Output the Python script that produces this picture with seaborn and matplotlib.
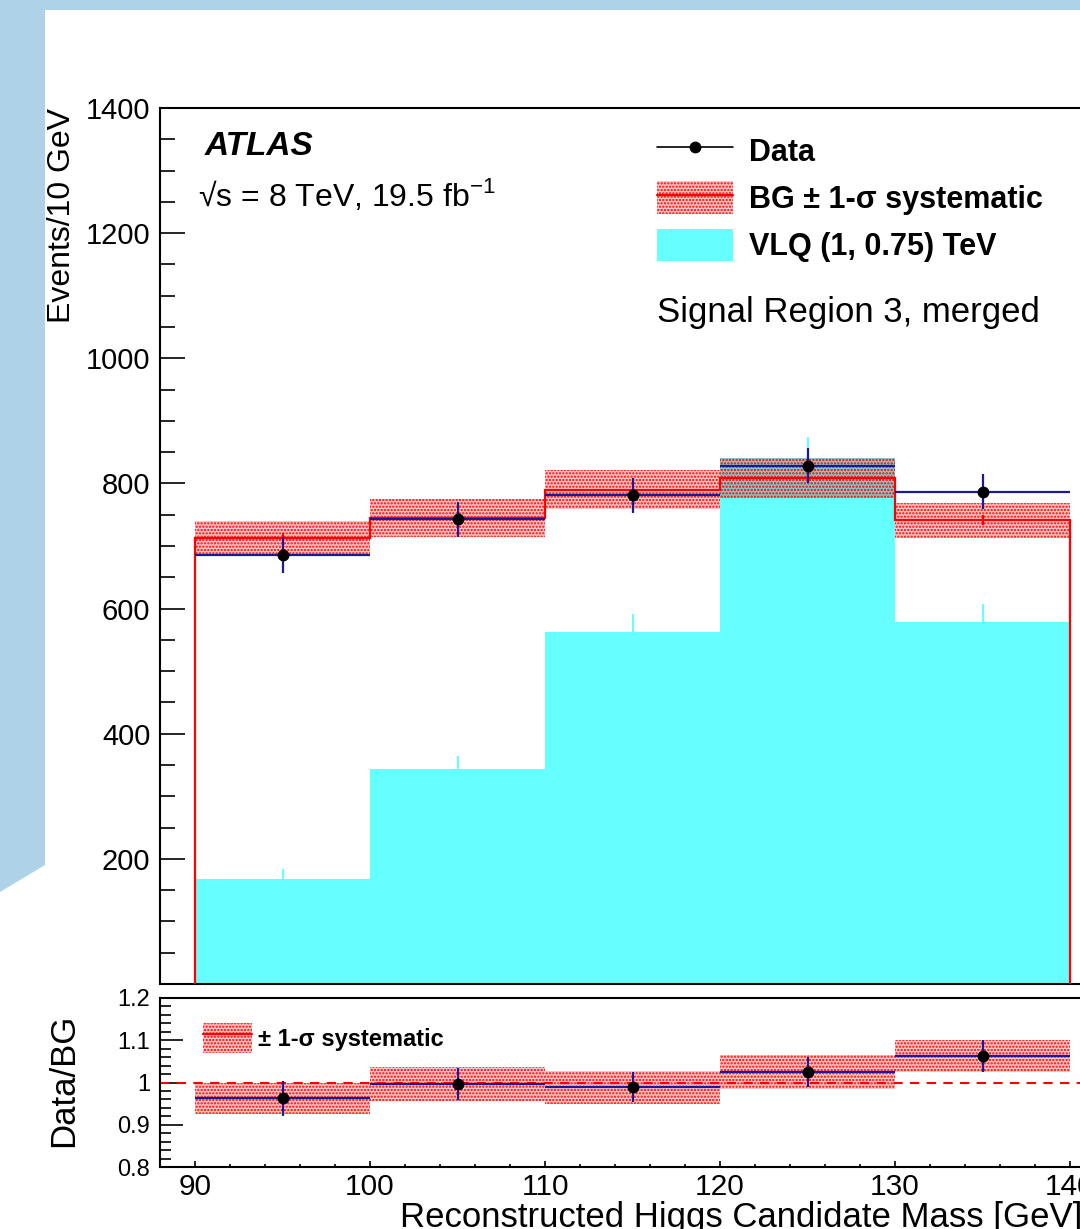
import numpy as np
import pandas as pd
import matplotlib
matplotlib.use("Agg")
import matplotlib.pyplot as plt
from matplotlib.patches import Patch, Polygon
from matplotlib.lines import Line2D
from matplotlib.legend_handler import HandlerTuple
from matplotlib.ticker import MultipleLocator, FixedLocator, FixedFormatter
import seaborn as sns

# Số liệu
bin_edges = [90, 100, 110, 120, 130, 140]
bg = [713, 745, 790, 808, 741]
bg_syst = [27, 30, 31, 32, 28]
bg_stat = [7, 7, 7, 8, 8]
data = [686, 743, 781, 828, 787]
data_err = [29, 28, 28, 28, 28]
vlq = [168, 343, 563, 840, 578]
vlq_err = [15, 22, 29, 34, 30]

y_ticks_main = [200, 400, 600, 800, 1000, 1200, 1400]
y_ticks_ratio = [0.8, 0.9, 1.0, 1.1, 1.2]
y_ticklabels_ratio = ["0.8", "0.9", "1", "1.1", "1.2"]

RED = "#ff0000"
BAND_FACE = (1.0, 0.0, 0.0, 0.22)
BLUE = "#1a1a99"
CYAN = "#66ffff"
FRAME = "#aed2e8"
HATCH = "....."

sns.set_theme(style="ticks", rc={
    "axes.edgecolor": "black", "xtick.color": "black", "ytick.color": "black",
    "text.color": "black", "axes.labelcolor": "black", "axes.linewidth": 1.5,
})
plt.rcParams["font.family"] = ["Liberation Sans", "DejaVu Sans"]
plt.rcParams["mathtext.fontset"] = "custom"
plt.rcParams["mathtext.rm"] = "Liberation Sans"
plt.rcParams["hatch.linewidth"] = 1.1

edges = np.array(bin_edges, dtype=float)
centers = (edges[:-1] + edges[1:]) / 2
half_w = (edges[1:] - edges[:-1]) / 2
bg_a = np.array(bg, dtype=float)
syst_a = np.array(bg_syst, dtype=float)
data_a = np.array(data, dtype=float)
derr_a = np.array(data_err, dtype=float)
vlq_a = np.array(vlq, dtype=float)
verr_a = np.array(vlq_err, dtype=float)

df = pd.DataFrame({"mass": centers, "vlq": vlq_a})

W, H = 1080, 1229
fig = plt.figure(figsize=(W / 100, H / 100), dpi=100)
fig.patch.set_facecolor("white")


def px_rect(left, right, top, bottom):
    return [left / W, 1 - bottom / H, (right - left) / W, (bottom - top) / H]


# khung nền màu xanh của slide
frame = Polygon([(0, 1), (1, 1), (1, 1 - 10 / H), (45 / W, 1 - 10 / H),
                 (45 / W, 1 - 865 / H), (0, 1 - 892 / H)],
                closed=True, transform=fig.transFigure, facecolor=FRAME,
                edgecolor="none", zorder=-5)
fig.patches.append(frame)

ax1 = fig.add_axes(px_rect(160, 1105, 108, 984))
ax2 = fig.add_axes(px_rect(160, 1105, 998, 1167))

# ---- Panel trên ----
sns.histplot(data=df, x="mass", weights="vlq", bins=bin_edges, element="step",
             fill=True, color=CYAN, alpha=1, linewidth=0, ax=ax1, zorder=1)
ax1.vlines(centers, vlq_a - verr_a, vlq_a + verr_a, color=CYAN, lw=1.5, zorder=1)
ax1.stairs(bg_a + syst_a, edges, baseline=bg_a - syst_a, fill=True,
           facecolor=BAND_FACE, edgecolor=RED, hatch=HATCH, lw=0, zorder=2)
ax1.stairs(bg_a, edges, baseline=0, fill=False, color=RED, lw=1.6, zorder=3)
ax1.vlines(centers, bg_a - np.array(bg_stat), bg_a + np.array(bg_stat),
           color=RED, lw=1.5, zorder=3)
ax1.errorbar(centers, data_a, xerr=half_w, yerr=derr_a, fmt="o", mfc="black",
             mec="black", ms=7.5, ecolor=BLUE, elinewidth=1.6, capsize=0, zorder=4)

ax1.set_xlim(88, 142)
ax1.set_ylim(0, 1400)
ax1.yaxis.set_major_locator(FixedLocator(y_ticks_main))
ax1.yaxis.set_minor_locator(MultipleLocator(50))
ax1.tick_params(axis="y", which="major", direction="in", length=18, width=1.2,
                labelsize=21, pad=7, left=True, right=False)
ax1.tick_params(axis="y", which="minor", direction="in", length=11, width=1.2,
                left=True, right=False)
ax1.tick_params(axis="x", which="both", bottom=False, top=False, labelbottom=False)
ax1.set_xlabel("")
ax1.set_ylabel("Events/10 GeV", fontsize=23, loc="top")
ax1.yaxis.set_label_coords(-0.088, 1.0)

ax1.text(0.0476, 0.9555, "ATLAS", transform=ax1.transAxes, fontsize=24,
         fontweight="bold", fontstyle="italic", va="center", ha="left")
ax1.text(0.0402, 0.9007, "√s = 8 TeV, 19.5 fb$^{-1}$", transform=ax1.transAxes,
         fontsize=23, va="center", ha="left")
ax1.text(0.526, 0.766, "Signal Region 3, merged", transform=ax1.transAxes,
         fontsize=25, va="center", ha="left")

handles = [
    Line2D([], [], color="black", marker="o", ms=7.5, lw=1.2),
    (Patch(facecolor=BAND_FACE, edgecolor=RED, hatch=HATCH, lw=0),
     Line2D([], [], color=RED, lw=1.6)),
    Patch(facecolor=CYAN, edgecolor="none"),
]
labels = ["Data", "BG ± 1-σ systematic", "VLQ (1, 0.75) TeV"]
ax1.legend(handles, labels, loc="upper left", bbox_to_anchor=(0.526, 0.970),
           frameon=False, prop={"weight": "bold", "size": 22},
           handlelength=2.5, handleheight=1.25, handletextpad=0.5,
           labelspacing=0.45, borderpad=0, borderaxespad=0,
           handler_map={tuple: HandlerTuple(ndivide=1, pad=0)})

# ---- Panel tỉ lệ Data/BG ----
ratio = data_a / bg_a
ratio_err = derr_a / bg_a
band = syst_a / bg_a
ax2.stairs(ratio + band, edges, baseline=ratio - band, fill=True,
           facecolor=BAND_FACE, edgecolor=RED, hatch=HATCH, lw=0, zorder=1)
ax2.axhline(1.0, color=RED, lw=1.5, ls=(0, (4.5, 3.5)), zorder=2)
ax2.errorbar(centers, ratio, xerr=half_w, yerr=ratio_err, fmt="o", mfc="black",
             mec="black", ms=7.5, ecolor=BLUE, elinewidth=1.6, capsize=0, zorder=4)

ax2.set_xlim(88, 142)
ax2.set_ylim(0.8, 1.2)
ax2.yaxis.set_major_locator(FixedLocator(y_ticks_ratio))
ax2.yaxis.set_major_formatter(FixedFormatter(y_ticklabels_ratio))
ax2.yaxis.set_minor_locator(MultipleLocator(0.02))
ax2.xaxis.set_major_locator(MultipleLocator(10))
ax2.xaxis.set_minor_locator(MultipleLocator(2))
ax2.tick_params(axis="y", which="major", direction="in", length=16.5, width=1.2,
                labelsize=17, pad=7, left=True, right=False)
ax2.tick_params(axis="y", which="minor", direction="in", length=8, width=1.2,
                left=True, right=False)
ax2.tick_params(axis="x", which="major", direction="in", length=4.5, width=1.2,
                labelsize=21.5, pad=4, bottom=True, top=False)
ax2.tick_params(axis="x", which="minor", direction="in", length=2.4, width=1.2,
                bottom=True, top=False)
ax2.set_ylabel("Data/BG", fontsize=25)
ax2.yaxis.set_label_coords(-0.0847, 0.515)
ax2.set_xlabel("Reconstructed Higgs Candidate Mass [GeV]", fontsize=25)
ax2.xaxis.label.set_horizontalalignment("left")
ax2.xaxis.label.set_verticalalignment("top")
ax2.xaxis.set_label_coords(0.254, -0.201)

leg_h = [(Patch(facecolor=BAND_FACE, edgecolor=RED, hatch=HATCH, lw=0),
          Line2D([], [], color=RED, lw=1.6))]
ax2.legend(leg_h, ["± 1-σ systematic"], loc="upper left",
           bbox_to_anchor=(0.0455, 0.852), frameon=False,
           prop={"weight": "bold", "size": 17}, handlelength=2.08,
           handleheight=1.6, handletextpad=0.25, borderpad=0, borderaxespad=0,
           handler_map={tuple: HandlerTuple(ndivide=1, pad=0)})

fig.savefig("out.png", dpi=100)
